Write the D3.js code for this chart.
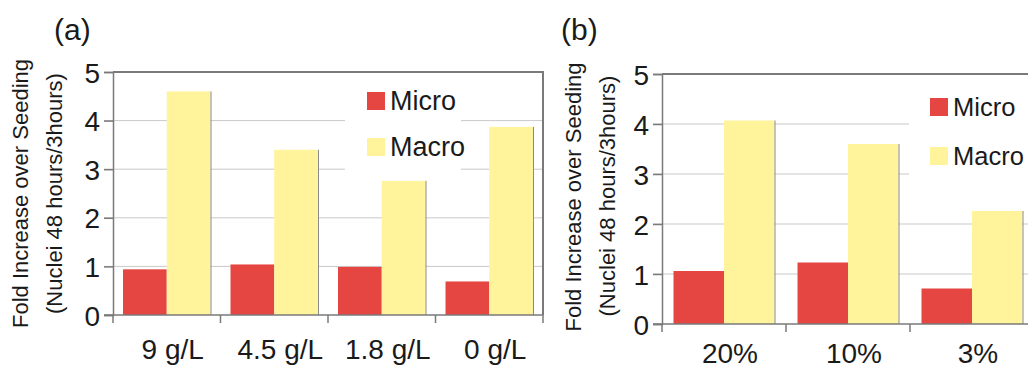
<html>
<head>
    <meta charset="UTF-8">
    <title>Fold increase over seeding</title>
    <script src="https://cdn.jsdelivr.net/npm/d3@7"></script>
    <style>
        body { margin: 0; background: #fff; }
        svg text { font-family: "Liberation Sans", Arial, sans-serif; fill: #1a1a1a; }
        .grid line { stroke: #c9c9c9; stroke-width: 1px; }
        .axis path, .axis line { stroke: #7a7a7a; stroke-width: 1.5px; }
        .axis text { font-size: 28px; }
        .frame { stroke: #7a7a7a; stroke-width: 2px; fill: none; }
    </style>
</head>
<body>
    <svg width="1028" height="369"></svg>
    <script>
        // values
        var series = ['Micro', 'Macro'],
            colors = ['#e54641', '#fff49b'],
            yTicks = [0, 1, 2, 3, 4, 5];

        var catsA = ['9 g/L', '4.5 g/L', '1.8 g/L', '0 g/L'],
            microA = [0.94, 1.04, 0.99, 0.69],
            macroA = [4.60, 3.40, 2.76, 3.87];

        var catsB = ['20%', '10%', '3%'],
            microB = [1.06, 1.23, 0.71],
            macroB = [4.07, 3.60, 2.26];

        var titleLines = ['Fold Increase over Seeding', '(Nuclei 48 hours/3hours)'];

        var svg = d3.select('svg');

        function panel(cfg) {
            var g = svg.append('g').attr('transform', 'translate(' + cfg.left + ',' + cfg.top + ')'),
                width = cfg.bandWidth * cfg.cats.length,
                height = cfg.height;

            var x0 = d3.scaleBand().domain(cfg.cats).range([0, width]),
                x1 = d3.scaleBand().domain(series).range([cfg.pad, cfg.bandWidth - cfg.pad]),
                y = d3.scaleLinear().domain([0, 5]).range([height, 0]);

            var rows = cfg.cats.map((c, i) => ({ cat: c, values: [cfg.micro[i], cfg.macro[i]] }));

            // gridlines
            g.append('g').attr('class', 'grid')
                .selectAll('line').data(yTicks.slice(1, -1)).enter().append('line')
                .attr('x1', -9).attr('x2', width)
                .attr('y1', d => y(d)).attr('y2', d => y(d));

            // white legend box hides the grid behind it
            g.append('rect')
                .attr('x', cfg.legend.boxX).attr('y', cfg.legend.boxY)
                .attr('width', cfg.legend.boxW).attr('height', cfg.legend.boxH)
                .attr('fill', '#fff');

            // bars
            var grp = g.selectAll('.grp').data(rows).enter().append('g')
                .attr('transform', d => 'translate(' + x0(d.cat) + ',0)');
            grp.selectAll('rect').data(d => d.values.map((v, i) => ({ key: series[i], v: v, i: i })))
                .enter().append('rect')
                .attr('x', d => x1(d.key))
                .attr('y', d => y(d.v))
                .attr('width', x1.bandwidth())
                .attr('height', d => height - y(d.v))
                .attr('fill', d => colors[d.i]);
            // slight shadow edge on the macro bars
            grp.append('line')
                .attr('x1', x1('Macro') + x1.bandwidth() + 0.5).attr('x2', x1('Macro') + x1.bandwidth() + 0.5)
                .attr('y1', d => y(d.values[1])).attr('y2', height)
                .attr('stroke', '#8a8a8a').attr('stroke-width', 1);

            // frame: top and right border
            g.append('path').attr('class', 'frame')
                .attr('d', 'M0,0H' + width + 'V' + height);

            // y axis
            var yAxis = g.append('g').attr('class', 'axis')
                .call(d3.axisLeft(y).tickValues(yTicks).tickSize(9).tickPadding(4).tickFormat(d3.format('d')));
            yAxis.selectAll('text').attr('dy', '0.36em').attr('font-size', '29px');
            yAxis.selectAll('line').attr('stroke', '#b5b5b5').attr('stroke-width', 1);

            // x axis, ticks at band edges
            var xg = g.append('g').attr('class', 'axis')
                .attr('transform', 'translate(0,' + height + ')');
            xg.append('line').attr('x1', -9).attr('x2', width).attr('y1', 0).attr('y2', 0);
            xg.selectAll('.edge').data(d3.range(cfg.cats.length + 1)).enter().append('line')
                .attr('x1', d => d * cfg.bandWidth).attr('x2', d => d * cfg.bandWidth)
                .attr('y1', 0).attr('y2', 8);
            xg.selectAll('.lab').data(cfg.cats).enter().append('text')
                .attr('x', d => x0(d) + cfg.bandWidth / 2 + 6)
                .attr('y', cfg.labelY)
                .attr('text-anchor', 'middle')
                .text(d => d);

            // axis title
            titleLines.forEach((t, i) => {
                g.append('text')
                    .attr('transform', 'translate(' + cfg.titleX[i] + ',' + (height / 2 + cfg.titleDy[i]) + ') rotate(-90)')
                    .attr('text-anchor', 'middle')
                    .attr('font-size', '22px')
                    .attr('fill', '#333')
                    .text(t);
            });

            // legend
            series.forEach((s, i) => {
                g.append('rect')
                    .attr('x', cfg.legend.x).attr('y', cfg.legend.y + i * cfg.legend.step)
                    .attr('width', 18).attr('height', 18)
                    .attr('fill', colors[i]);
                g.append('text')
                    .attr('x', cfg.legend.x + 23).attr('y', cfg.legend.y + 18 + i * cfg.legend.step)
                    .attr('font-size', cfg.legend.font)
                    .text(s);
            });

            // panel letter
            svg.append('text')
                .attr('x', cfg.tagX).attr('y', 40)
                .attr('font-size', '30px')
                .text(cfg.tag);
        }

        panel({
            tag: '(a)', tagX: 54,
            left: 113, top: 72, height: 243, bandWidth: 107.5, pad: 10,
            cats: catsA, micro: microA, macro: macroA,
            labelY: 44,
            titleX: [-85, -51], titleDy: [0, 0],
            legend: { x: 254, y: 20, step: 46, font: '27px', boxX: 232, boxY: 8, boxW: 116, boxH: 102 }
        });

        panel({
            tag: '(b)', tagX: 561,
            left: 662, top: 74, height: 250, bandWidth: 124, pad: 11.5,
            cats: catsB, micro: microB, macro: macroB,
            labelY: 39,
            titleX: [-81, -47], titleDy: [-2, -3],
            legend: { x: 268, y: 24, step: 49, font: '25.5px', boxX: 247, boxY: 10, boxW: 140, boxH: 102 }
        });
    </script>
</body>
</html>
